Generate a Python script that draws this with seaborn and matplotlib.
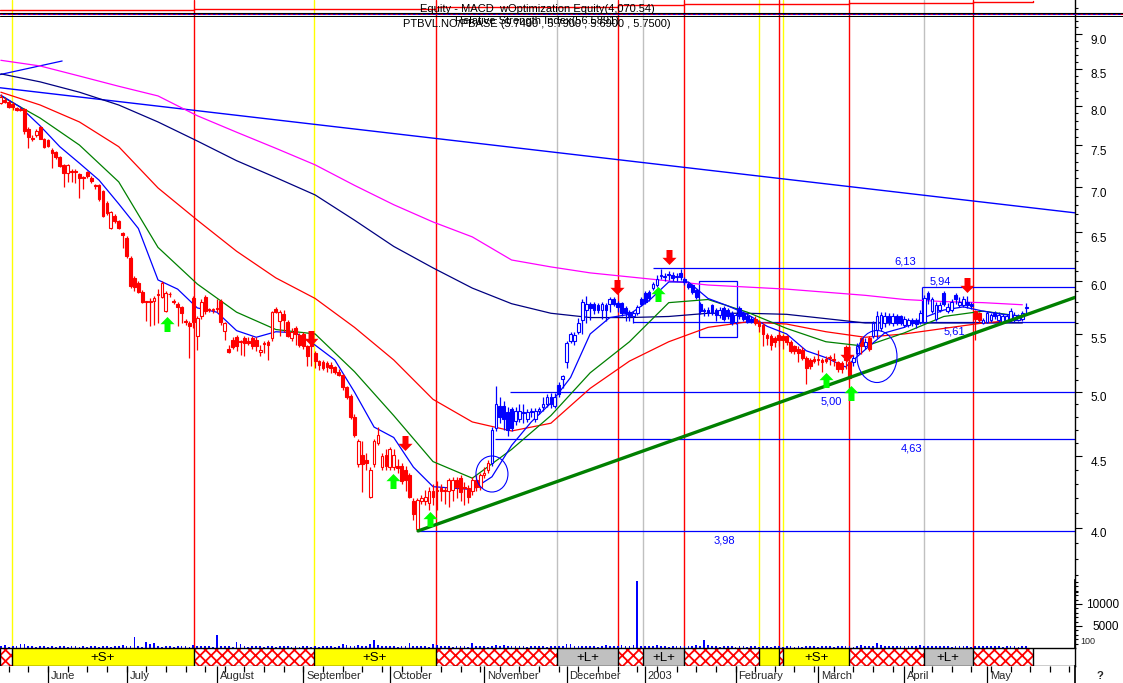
import numpy as np
import pandas as pd
import seaborn as sns
import matplotlib.pyplot as plt
from matplotlib.path import Path
from matplotlib.patches import Rectangle
from matplotlib.ticker import FixedLocator, NullFormatter, FuncFormatter
from matplotlib.transforms import ScaledTranslation, Affine2D

# ---------------- data (bar index = trading day) ----------------
opens = [8.04, 8.08, 8.05, 8.02, 7.97, 7.96, 7.96, 7.70, 7.59, 7.62,
         7.72, 7.57, 7.56, 7.44, 7.41, 7.36, 7.26, 7.16, 7.19, 7.19,
         7.15, 7.12, 7.18, 7.11, 7.02, 7.02, 6.95, 6.82, 6.54, 6.68,
         6.62, 6.49, 6.44, 6.23, 6.03, 5.98, 5.89, 5.80, 5.81, 5.81,
         5.86, 5.84, 5.71, 5.87, 5.81, 5.78, 5.75, 5.62, 5.60, 5.83,
         5.48, 5.66, 5.84, 5.72, 5.72, 5.74, 5.81, 5.53, 5.37, 5.45,
         5.47, 5.43, 5.46, 5.44, 5.46, 5.45, 5.34, 5.42, 5.43, 5.46,
         5.73, 5.62, 5.68, 5.61, 5.46, 5.55, 5.49, 5.50, 5.39, 5.45,
         5.33, 5.26, 5.25, 5.24, 5.23, 5.21, 5.17, 5.14, 5.04, 4.97,
         4.80, 4.44, 4.51, 4.47, 4.21, 4.44, 4.60, 4.42, 4.51, 4.42,
         4.42, 4.43, 4.43, 4.40, 4.36, 4.18, 3.99, 4.18, 4.18, 4.17,
         4.25, 4.26, 4.27, 4.25, 4.25, 4.26, 4.33, 4.34, 4.28, 4.27,
         4.25, 4.33, 4.28, 4.36, 4.40, 4.45, 4.71, 4.89, 4.89, 4.84,
         4.86, 4.77, 4.78, 4.84, 4.78, 4.84, 4.78, 4.85, 4.88, 4.90,
         4.96, 4.89, 5.06, 5.11, 5.25, 5.44, 5.44, 5.52, 5.63, 5.72,
         5.78, 5.78, 5.77, 5.72, 5.77, 5.78, 5.82, 5.79, 5.79, 5.74,
         5.70, 5.66, 5.69, 5.82, 5.88, 5.89, 5.93, 5.96, 6.05, 6.04,
         6.06, 6.06, 6.04, 6.08, 6.02, 5.97, 5.96, 5.91, 5.78, 5.72,
         5.72, 5.77, 5.72, 5.67, 5.74, 5.72, 5.69, 5.61, 5.74, 5.69,
         5.66, 5.64, 5.64, 5.61, 5.58, 5.49, 5.48, 5.46, 5.49, 5.48,
         5.48, 5.43, 5.39, 5.37, 5.36, 5.29, 5.27, 5.28, 5.27, 5.27,
         5.28, 5.29, 5.28, 5.25, 5.24, 5.38, 5.25, 5.25, 5.33, 5.46,
         5.39, 5.46, 5.48, 5.54, 5.55, 5.60, 5.66, 5.60, 5.66, 5.66,
         5.58, 5.58, 5.63, 5.63, 5.61, 5.61, 5.88, 5.71, 5.64, 5.72,
         5.88, 5.71, 5.72, 5.86, 5.77, 5.77, 5.80, 5.78, 5.71, 5.69,
         5.60, 5.61, 5.63, 5.69, 5.63, 5.61, 5.63, 5.63, 5.63, 5.63,
         5.64, 5.74]
highs = [8.15, 8.12, 8.08, 8.05, 7.99, 7.98, 7.97, 7.72, 7.62, 7.70,
         7.74, 7.59, 7.58, 7.46, 7.43, 7.37, 7.27, 7.27, 7.21, 7.21,
         7.16, 7.13, 7.19, 7.13, 7.04, 7.03, 6.97, 6.84, 6.73, 6.70,
         6.63, 6.50, 6.46, 6.25, 6.05, 6.00, 5.91, 5.81, 5.83, 5.85,
         5.92, 6.00, 5.90, 5.89, 5.82, 5.80, 5.76, 5.64, 5.62, 5.85,
         5.66, 5.82, 5.86, 5.74, 5.74, 5.82, 5.82, 5.61, 5.40, 5.47,
         5.49, 5.45, 5.48, 5.47, 5.48, 5.47, 5.40, 5.44, 5.45, 5.71,
         5.75, 5.72, 5.72, 5.63, 5.55, 5.57, 5.51, 5.52, 5.40, 5.47,
         5.35, 5.27, 5.27, 5.26, 5.25, 5.22, 5.19, 5.15, 5.05, 4.98,
         4.82, 4.63, 4.61, 4.52, 4.42, 4.63, 4.72, 4.52, 4.55, 4.57,
         4.55, 4.48, 4.45, 4.43, 4.38, 4.20, 4.20, 4.22, 4.26, 4.28,
         4.30, 4.32, 4.30, 4.28, 4.34, 4.35, 4.35, 4.36, 4.31, 4.29,
         4.35, 4.36, 4.38, 4.42, 4.47, 4.72, 5.05, 4.96, 4.93, 4.88,
         4.88, 4.88, 4.90, 4.90, 4.86, 4.87, 4.87, 4.88, 4.96, 4.98,
         4.99, 4.99, 5.08, 5.14, 5.44, 5.52, 5.52, 5.65, 5.82, 5.85,
         5.80, 5.80, 5.79, 5.80, 5.79, 5.84, 5.84, 5.81, 5.80, 5.76,
         5.72, 5.71, 5.77, 5.84, 5.90, 5.91, 5.99, 6.06, 6.12, 6.08,
         6.10, 6.09, 6.08, 6.12, 6.04, 5.99, 5.97, 5.92, 5.80, 5.74,
         5.75, 5.78, 5.74, 5.75, 5.76, 5.74, 5.71, 5.69, 5.76, 5.71,
         5.68, 5.66, 5.66, 5.63, 5.60, 5.51, 5.50, 5.48, 5.51, 5.50,
         5.49, 5.45, 5.40, 5.39, 5.38, 5.30, 5.29, 5.30, 5.36, 5.29,
         5.30, 5.31, 5.33, 5.26, 5.26, 5.40, 5.27, 5.31, 5.42, 5.47,
         5.46, 5.48, 5.62, 5.71, 5.70, 5.70, 5.69, 5.69, 5.68, 5.67,
         5.66, 5.65, 5.65, 5.65, 5.72, 5.86, 5.90, 5.84, 5.80, 5.80,
         5.90, 5.79, 5.82, 5.88, 5.84, 5.85, 5.85, 5.80, 5.72, 5.70,
         5.65, 5.71, 5.69, 5.71, 5.70, 5.68, 5.68, 5.74, 5.70, 5.68,
         5.71, 5.79]
lows = [8.02, 8.03, 7.97, 7.95, 7.93, 7.93, 7.64, 7.46, 7.55, 7.60,
        7.57, 7.46, 7.47, 7.22, 7.33, 7.24, 7.00, 7.06, 7.06, 7.05,
        6.87, 6.98, 7.10, 7.05, 6.98, 6.84, 6.66, 6.69, 6.53, 6.60,
        6.53, 6.33, 6.23, 5.93, 5.90, 5.88, 5.79, 5.62, 5.57, 5.58,
        5.60, 5.83, 5.70, 5.84, 5.78, 5.57, 5.60, 5.58, 5.29, 5.55,
        5.36, 5.64, 5.68, 5.70, 5.69, 5.70, 5.58, 5.45, 5.33, 5.37,
        5.35, 5.31, 5.30, 5.40, 5.37, 5.35, 5.30, 5.33, 5.27, 5.44,
        5.69, 5.48, 5.52, 5.47, 5.44, 5.40, 5.38, 5.37, 5.22, 5.22,
        5.20, 5.18, 5.18, 5.17, 5.16, 5.15, 5.13, 5.02, 4.94, 4.78,
        4.64, 4.42, 4.24, 4.40, 4.20, 4.42, 4.58, 4.40, 4.40, 4.40,
        4.40, 4.38, 4.30, 4.25, 4.20, 4.05, 3.98, 4.16, 4.15, 4.12,
        4.15, 4.12, 4.18, 4.16, 4.14, 4.18, 4.20, 4.18, 4.15, 4.17,
        4.22, 4.25, 4.26, 4.34, 4.38, 4.43, 4.69, 4.75, 4.70, 4.65,
        4.69, 4.74, 4.76, 4.75, 4.76, 4.80, 4.76, 4.82, 4.85, 4.88,
        4.87, 4.87, 4.96, 5.03, 5.20, 5.42, 5.40, 5.50, 5.50, 5.60,
        5.63, 5.68, 5.69, 5.64, 5.62, 5.70, 5.76, 5.70, 5.66, 5.62,
        5.62, 5.60, 5.67, 5.76, 5.78, 5.81, 5.91, 5.94, 6.02, 6.00,
        6.01, 6.00, 6.00, 6.01, 5.96, 5.92, 5.87, 5.82, 5.68, 5.66,
        5.66, 5.67, 5.62, 5.65, 5.62, 5.64, 5.58, 5.59, 5.64, 5.62,
        5.60, 5.60, 5.58, 5.52, 5.39, 5.40, 5.36, 5.38, 5.39, 5.37,
        5.40, 5.33, 5.32, 5.25, 5.27, 5.07, 5.19, 5.24, 5.23, 5.17,
        5.24, 5.23, 5.22, 5.17, 5.16, 5.19, 5.10, 5.22, 5.31, 5.32,
        5.37, 5.35, 5.46, 5.46, 5.53, 5.56, 5.58, 5.57, 5.58, 5.58,
        5.56, 5.56, 5.57, 5.55, 5.59, 5.60, 5.78, 5.69, 5.62, 5.70,
        5.76, 5.69, 5.70, 5.78, 5.75, 5.75, 5.74, 5.73, 5.45, 5.61,
        5.59, 5.60, 5.61, 5.64, 5.61, 5.60, 5.61, 5.61, 5.61, 5.62,
        5.62, 5.69]
closes = [8.12, 8.05, 7.98, 7.98, 7.95, 7.95, 7.67, 7.60, 7.57, 7.68,
          7.58, 7.48, 7.49, 7.40, 7.35, 7.25, 7.16, 7.26, 7.18, 7.18,
          7.10, 7.11, 7.13, 7.07, 7.01, 6.86, 6.68, 6.71, 6.72, 6.62,
          6.55, 6.47, 6.25, 5.95, 5.94, 5.89, 5.80, 5.80, 5.80, 5.83,
          5.87, 5.98, 5.88, 5.87, 5.80, 5.75, 5.69, 5.61, 5.57, 5.61,
          5.65, 5.80, 5.71, 5.72, 5.72, 5.73, 5.61, 5.60, 5.34, 5.38,
          5.39, 5.43, 5.42, 5.42, 5.39, 5.39, 5.36, 5.41, 5.40, 5.70,
          5.70, 5.70, 5.63, 5.48, 5.52, 5.50, 5.40, 5.39, 5.30, 5.39,
          5.26, 5.23, 5.20, 5.21, 5.20, 5.17, 5.14, 5.04, 4.96, 4.80,
          4.66, 4.61, 4.44, 4.45, 4.40, 4.61, 4.66, 4.50, 4.43, 4.55,
          4.51, 4.41, 4.32, 4.33, 4.21, 4.09, 4.19, 4.20, 4.21, 4.25,
          4.21, 4.25, 4.25, 4.25, 4.33, 4.33, 4.28, 4.24, 4.27, 4.21,
          4.33, 4.28, 4.36, 4.38, 4.45, 4.70, 4.90, 4.80, 4.78, 4.70,
          4.71, 4.85, 4.85, 4.83, 4.84, 4.84, 4.85, 4.86, 4.90, 4.96,
          4.90, 4.96, 4.98, 5.13, 5.42, 5.50, 5.49, 5.60, 5.80, 5.78,
          5.74, 5.72, 5.72, 5.78, 5.72, 5.82, 5.78, 5.75, 5.69, 5.69,
          5.66, 5.69, 5.75, 5.78, 5.80, 5.83, 5.97, 6.02, 6.06, 6.04,
          6.06, 6.03, 6.04, 6.04, 5.99, 5.94, 5.89, 5.84, 5.71, 5.71,
          5.69, 5.69, 5.67, 5.72, 5.64, 5.66, 5.60, 5.67, 5.66, 5.64,
          5.61, 5.61, 5.60, 5.57, 5.50, 5.46, 5.40, 5.43, 5.45, 5.45,
          5.43, 5.35, 5.35, 5.33, 5.29, 5.20, 5.22, 5.26, 5.28, 5.25,
          5.26, 5.29, 5.27, 5.19, 5.19, 5.27, 5.12, 5.29, 5.39, 5.39,
          5.43, 5.37, 5.60, 5.66, 5.67, 5.66, 5.61, 5.66, 5.60, 5.60,
          5.64, 5.63, 5.60, 5.59, 5.69, 5.83, 5.82, 5.82, 5.77, 5.77,
          5.78, 5.75, 5.80, 5.82, 5.80, 5.82, 5.77, 5.76, 5.64, 5.63,
          5.63, 5.69, 5.67, 5.66, 5.67, 5.66, 5.66, 5.71, 5.67, 5.66,
          5.69, 5.75]
volumes = [450, 600, 300, 400, 500, 900, 1000, 450, 350, 300,
           400, 350, 300, 450, 300, 400, 350, 300, 450, 350,
           300, 400, 300, 350, 450, 300, 350, 400, 300, 450,
           500, 700, 400, 450, 2600, 350, 300, 1400, 1000, 1100,
           350, 300, 400, 350, 300, 400, 500, 350, 300, 600,
           450, 400, 350, 500, 300, 2900, 450, 400, 350, 300,
           1400, 800, 350, 300, 400, 450, 350, 300, 400, 350,
           300, 350, 400, 450, 300, 350, 300, 400, 350, 300,
           350, 300, 400, 450, 350, 300, 400, 800, 700, 500,
           450, 650, 400, 350, 900, 1800, 600, 500, 400, 350,
           400, 300, 450, 350, 1100, 400, 350, 450, 400, 300,
           900, 600, 500, 400, 350, 300, 400, 450, 350, 300,
           1100, 450, 400, 350, 300, 500, 600, 400, 700, 450,
           400, 350, 450, 400, 300, 350, 450, 400, 350, 300,
           450, 400, 500, 350, 900, 1000, 450, 400, 550, 400,
           350, 400, 300, 450, 600, 350, 450, 350, 700, 400,
           450, 700, 15200, 350, 400, 450, 500, 700, 400, 350,
           300, 350, 400, 500, 450, 350, 500, 600, 450, 1900,
           600, 400, 350, 300, 450, 350, 400, 300, 350, 400,
           300, 350, 400, 300, 350, 450, 300, 350, 400, 300,
           350, 400, 300, 350, 300, 400, 350, 450, 300, 350,
           400, 350, 300, 450, 400, 350, 400, 300, 450, 700,
           450, 500, 400, 1100, 600, 450, 400, 350, 400, 450,
           350, 400, 450, 500, 700, 400, 350, 450, 400, 350,
           400, 350, 300, 450, 400, 350, 400, 300, 450, 350,
           550, 450, 400, 350, 400, 300, 350, 400, 350, 300,
           350, 400]
# bars drawn in red (sell regime); the rest are blue
red_ranges = [(0, 124), (192, 216), (219, 219), (221, 221), (248, 249)]

# moving averages, read every 5 / 10 bars
fast_bars = list(range(0, 261, 5))
fast_ma = [8.14, 7.98, 7.74, 7.48, 7.28, 7.08, 6.81, 6.54, 6.01, 5.92,
           5.74, 5.70, 5.53, 5.47, 5.52, 5.51, 5.40, 5.27, 5.00, 4.72,
           4.64, 4.42, 4.28, 4.27, 4.26, 4.35, 4.58, 4.76, 4.91, 5.12,
           5.50, 5.65, 5.68, 5.81, 5.99, 5.99, 5.83, 5.76, 5.68, 5.57,
           5.50, 5.35, 5.29, 5.21, 5.36, 5.51, 5.56, 5.65, 5.72, 5.75,
           5.71, 5.68, 5.66]
ma_bars = list(range(0, 261, 10))
green_ma = [8.13, 7.84, 7.50, 7.06, 6.34, 5.97, 5.70, 5.54, 5.50, 5.17,
            4.81, 4.46, 4.34, 4.55, 4.81, 5.16, 5.43, 5.79, 5.82, 5.70,
            5.55, 5.43, 5.39, 5.51, 5.66, 5.71, 5.66]
red_ma = [8.18, 8.01, 7.79, 7.48, 6.99, 6.63, 6.30, 6.03, 5.83, 5.56,
          5.27, 4.94, 4.76, 4.69, 4.75, 5.03, 5.26, 5.43, 5.56, 5.61,
          5.59, 5.52, 5.47, 5.50, 5.55, 5.60, 5.63]
navy_ma = [8.43, 8.32, 8.18, 8.01, 7.79, 7.55, 7.31, 7.11, 6.91, 6.63,
           6.35, 6.13, 5.93, 5.78, 5.69, 5.65, 5.65, 5.66, 5.69, 5.69,
           5.68, 5.64, 5.60, 5.60, 5.60, 5.60, 5.60]
magenta_ma = [8.62, 8.54, 8.40, 8.26, 8.13, 7.87, 7.66, 7.46, 7.26, 7.02,
              6.80, 6.61, 6.45, 6.21, 6.14, 6.08, 6.04, 6.00, 5.96, 5.94,
              5.92, 5.89, 5.86, 5.82, 5.80, 5.79, 5.77]

# trend lines (bar, price pairs)
long_trend_bars = [-0.22, 273.4]
long_trend_px = [8.24, 6.71]
short_trend_bars = [-0.22, 15.6]
short_trend_px = [8.42, 8.61]
support_bars = [106.2, 273.4]
support_px = [3.98, 5.84]

# horizontal levels
level_vals = [3.98, 4.63, 5.00, 5.61, 6.13, 5.94]
level_start = [106.2, 125.8, 129.6, 160.9, 166.0, 234.4]
level_text = ["3,98", "4,63", "5,00", "5,61", "6,13", "5,94"]
level_text_bar = [184.1, 231.9, 211.3, 242.6, 230.1, 239.0]
level_text_above = [False, False, False, False, True, True]
box_bars = [177.7, 187.3]
box_px = [5.47, 6.00]

# signals
buy_bars = [42.3, 99.8, 109.2, 167.3, 210.0, 216.4]
buy_px = [5.59, 4.32, 4.06, 5.87, 5.10, 4.99]
sell_bars = [79.0, 102.9, 156.8, 170.0, 215.4, 245.9]
sell_px = [5.46, 4.60, 5.94, 6.24, 5.32, 5.96]
circle_bars = [125.0, 223.0]
circle_px = [4.37, 5.30]

signal_bars = [2.8, 49.2, 79.7, 110.7, 141.5, 157.1, 163.4, 173.9,
               193.0, 198.1, 199.1, 215.9, 234.9, 247.4]
signal_kinds = ['S', 'X', 'S', 'X', 'L', 'X', 'L', 'X',
                'S', 'X', 'S', 'X', 'L', 'X']
strip_end = 262.7

# equity curve (header)
eq_bars = [-0.22, 49.2, 79.7, 110.7, 157.1, 173.9, 198.1, 215.9, 247.4, 262.7]
eq_vals = [2900, 3000, 3050, 3250, 3500, 3700, 3750, 3850, 4000, 4070.54]

month_bars = [12, 32, 55, 77, 99, 123, 144, 164, 187, 208, 230, 251]
month_names = ["June", "July", "August", "September", "October", "November",
               "December", "2003", "February", "March", "April", "May"]

# ---------------- style ----------------
sns.set_theme(style="white")
plt.rcParams['font.family'] = ['Liberation Sans', 'DejaVu Sans']
plt.rcParams['hatch.linewidth'] = 1.3

RED, BLUE, GREEN = '#ff0000', '#0000ff', '#008000'
NAVY, MAGENTA = '#000080', '#ff00ff'
YELLOW, SILVER, LIME = '#ffff00', '#c0c0c0', '#00ff00'
sig_color = {'S': YELLOW, 'X': RED, 'L': SILVER}

W, H = 1123, 683
XLIM = (-0.216, 273.4)
fig = plt.figure(figsize=(W / 100, H / 100), dpi=100)


def rect(x0, y0, x1, y1):
    return [x0 / W, 1 - y1 / H, (x1 - x0) / W, (y1 - y0) / H]


def off(dx, dy):
    return ScaledTranslation(dx / 100, dy / 100, fig.dpi_scale_trans)


# ---------------- price panel ----------------
ax = fig.add_axes(rect(0, 0, 1075, 648))
ax.set_yscale('log')
ax.set_xlim(*XLIM)
ax.set_ylim(3.284, 9.517)
for s in ['left', 'top', 'bottom']:
    ax.spines[s].set_visible(False)
ax.spines['right'].set_color('black')
ax.spines['right'].set_linewidth(1)
ax.set_xticks([])
ax.yaxis.tick_right()
ax.yaxis.set_major_locator(FixedLocator(np.arange(4.0, 9.01, 0.5)))
ax.yaxis.set_major_formatter(FuncFormatter(lambda v, _: f"{v:.1f}"))
ax.yaxis.set_minor_locator(FixedLocator(np.arange(3.6, 9.45, 0.1)))
ax.yaxis.set_minor_formatter(NullFormatter())
ax.tick_params(axis='y', which='major', direction='out', length=5, width=0.8,
               colors='black', labelsize=8.5, pad=6)
ax.tick_params(axis='y', which='minor', direction='out', length=2.5, width=0.8,
               colors='black')
for lab in ax.get_yticklabels():
    lab.set_transform(lab.get_transform() + off(0, -5))

# signal verticals
for b, k in zip(signal_bars, signal_kinds):
    ax.axvline(b, color=sig_color[k], lw=1, zorder=1)

# horizontal levels and labels
ax.hlines(level_vals, level_start, XLIM[1], colors=BLUE, lw=0.9, zorder=2)
ax.vlines([level_start[5]], [level_vals[3]], [level_vals[5]], colors=BLUE, lw=0.9)
for v, t, b, up in zip(level_vals, level_text, level_text_bar, level_text_above):
    ax.annotate(t, (b, v), xytext=(0, 6 if up else -10), textcoords='offset pixels',
                ha='center', va='center', color=BLUE, fontsize=8)
ax.add_patch(Rectangle((box_bars[0], box_px[0]), box_bars[1] - box_bars[0],
                       box_px[1] - box_px[0], fill=False, ec=BLUE, lw=0.9, zorder=2))

# trend lines
sns.lineplot(x=long_trend_bars, y=long_trend_px, ax=ax, color=BLUE, lw=1.0, zorder=2)
sns.lineplot(x=short_trend_bars, y=short_trend_px, ax=ax, color=BLUE, lw=0.9, zorder=2)

# moving averages
sns.lineplot(x=ma_bars, y=magenta_ma, ax=ax, color=MAGENTA, lw=0.9, zorder=3)
sns.lineplot(x=ma_bars, y=navy_ma, ax=ax, color=NAVY, lw=0.9, zorder=3)
sns.lineplot(x=ma_bars, y=red_ma, ax=ax, color=RED, lw=0.9, zorder=3)
sns.lineplot(x=ma_bars, y=green_ma, ax=ax, color=GREEN, lw=0.9, zorder=3)
sns.lineplot(x=fast_bars, y=fast_ma, ax=ax, color=BLUE, lw=0.9, zorder=3)

# candles
df = pd.DataFrame({'open': opens, 'high': highs, 'low': lows, 'close': closes})
df['bar'] = np.arange(len(df))
red_mask = np.zeros(len(df), bool)
for a, b in red_ranges:
    red_mask[a:b + 1] = True
df['color'] = np.where(red_mask, RED, BLUE)
df['lo'] = df[['open', 'close']].min(axis=1)
df['hgt'] = (df['close'] - df['open']).abs().clip(lower=0.006)
df['face'] = np.where(df['close'] >= df['open'], 'white', df['color'])
ax.vlines(df['bar'], df['low'], df['high'], colors=df['color'], lw=0.9, zorder=4)
ax.bar(df['bar'], df['hgt'], bottom=df['lo'], width=0.7, color=df['face'],
       edgecolor=df['color'], linewidth=0.8, zorder=5)

sns.lineplot(x=support_bars, y=support_px, ax=ax, color=GREEN, lw=2.4, zorder=6)

# arrows
up_path = Path([(0, 0.5), (0.47, 0.02), (0.2, 0.02), (0.2, -0.5), (-0.2, -0.5),
                (-0.2, 0.02), (-0.47, 0.02), (0, 0.5)], closed=True)
down_path = up_path.transformed(Affine2D().scale(1, -1))
ax.scatter(buy_bars, buy_px, marker=up_path, s=(15 * 0.72) ** 2, color=LIME,
           lw=0, zorder=7)
ax.scatter(sell_bars, sell_px, marker=down_path, s=(15 * 0.72) ** 2, color=RED,
           lw=0, zorder=7)

# circles
for b, p, w_px, h_px in zip(circle_bars, circle_px, [32, 40], [36, 52]):
    ell = Path.unit_circle().transformed(Affine2D().scale(w_px / h_px, 1))
    ax.scatter([b], [p], marker=ell, s=(h_px * 0.72) ** 2, facecolors='none',
               edgecolors=BLUE, lw=0.8, zorder=7)

# ---------------- volume ----------------
vax = fig.add_axes(rect(0, 580, 1075, 648))
vax.patch.set_alpha(0)
vax.set_xlim(*XLIM)
vax.set_ylim(0, 15454)
vax.bar(df['bar'], volumes, width=0.45, color=BLUE, lw=0, zorder=3)
for s in ['left', 'top', 'bottom']:
    vax.spines[s].set_visible(False)
vax.spines['right'].set_color('black')
vax.set_xticks([])
vax.yaxis.tick_right()
vax.yaxis.set_major_locator(FixedLocator([5000, 10000]))
vax.yaxis.set_major_formatter(FuncFormatter(lambda v, _: f"{int(v)}"))
vax.yaxis.set_minor_locator(FixedLocator(np.arange(1000, 15001, 1000)))
vax.yaxis.set_minor_formatter(NullFormatter())
vax.tick_params(axis='y', which='major', direction='out', length=5, width=0.8,
                colors='black', labelsize=8.5, pad=2)
vax.tick_params(axis='y', which='minor', direction='out', length=2.5, width=0.8,
                colors='black')
for lab in vax.get_yticklabels():
    lab.set_horizontalalignment('right')
    lab.set_transform(lab.get_transform() + off(34, 0))

# ---------------- signal strip ----------------
sax = fig.add_axes(rect(0, 648, 1075, 666))
sax.set_xlim(*XLIM)
sax.set_ylim(0, 1)
sax.set_xticks([])
sax.set_yticks([])
for s in ['top', 'bottom', 'right']:
    sax.spines[s].set_color('black')
    sax.spines[s].set_linewidth(1)
sax.spines['left'].set_visible(False)
starts = [XLIM[0]] + signal_bars
ends = signal_bars + [strip_end]
kinds = ['X'] + signal_kinds
for a, b, k in zip(starts, ends, kinds):
    if k == 'X':
        sax.add_patch(Rectangle((a, 0), b - a, 1, facecolor='white', edgecolor=RED,
                                hatch='xxx', lw=0))
    else:
        sax.add_patch(Rectangle((a, 0), b - a, 1, facecolor=sig_color[k], lw=0))
        if b - a > 8:
            sax.text((a + b) / 2, 0.45, f"+{k}+", ha='center', va='center',
                     fontsize=9.5, color='black')
sax.vlines(starts + [strip_end], 0, 1, colors='black', lw=1)

# ---------------- month axis ----------------
max_ = fig.add_axes(rect(0, 666, 1075, 683))
max_.set_xlim(*XLIM)
max_.set_ylim(0, 1)
max_.set_xticks([])
max_.set_yticks([])
for s in ['top', 'bottom', 'left']:
    max_.spines[s].set_visible(False)
max_.spines['right'].set_color('black')
max_.vlines(np.arange(2, 273, 5), 0.62, 1, colors='black', lw=0.9)
max_.vlines(month_bars, 0, 1, colors='black', lw=0.9)
for b, name in zip(month_bars, month_names):
    max_.text(b + 0.7, 0.42, name, ha='left', va='center', fontsize=8)

# ---------------- header ----------------
eax = fig.add_axes(rect(0, 0, 1075, 12))
eax.patch.set_alpha(0)
eax.set_xlim(*XLIM)
eax.set_ylim(2600, 4250)
eax.axis('off')
eax.step(eq_bars, eq_vals, where='post', color=RED, lw=1)

bax = fig.add_axes(rect(0, 0, W, 17))
bax.patch.set_alpha(0)
bax.set_xlim(0, 1)
bax.set_ylim(17, 0)
bax.axis('off')
bax.axhline(12.5, color='black', lw=0.8)
bax.axhspan(13.3, 15.3, color=BLUE, lw=0)
bax.axhline(14.3, color=RED, lw=0.6, ls=(0, (3, 3)))
bax.axhline(15.9, color='black', lw=0.8)

fig.text(537 / W, 1 - 8.5 / H, "Equity - MACD_wOptimization Equity(4,070.54)",
         ha='center', va='center', fontsize=8, color='black')
fig.text(537 / W, 1 - 21 / H, "Relative Strength Index(56.5891)",
         ha='center', va='center', fontsize=8, color='black')
fig.text(537 / W, 1 - 24 / H, "PTBVL.NO/PBASE (5.7400 , 5.7900 , 5.6900 , 5.7500)",
         ha='center', va='center', fontsize=8, color='black')

fig.text(1080 / W, 1 - 642 / H, "100", ha='left', va='center', fontsize=6.5)
fig.text(1100 / W, 1 - 676 / H, "?", ha='center', va='center', fontsize=8,
         fontweight='bold')

fig.savefig("out.png", dpi=100)
